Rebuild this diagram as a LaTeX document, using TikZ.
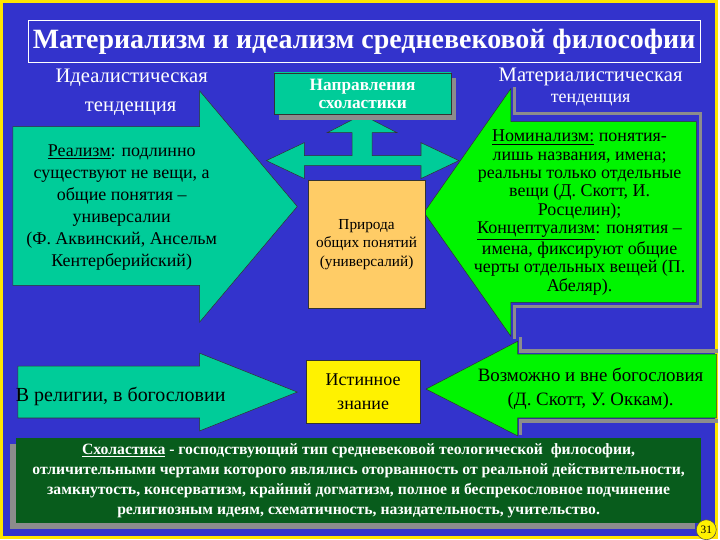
\documentclass[tikz,border=0pt]{standalone}
\usepackage{fontspec}
\setmainfont{Liberation Serif}
\usetikzlibrary{shadows}
\definecolor{bgblue}{RGB}{51, 51, 204}
\definecolor{frameyellow}{RGB}{255, 230, 0}
\definecolor{lteal}{RGB}{0, 204, 153}
\definecolor{dteal}{RGB}{0, 85, 60}
\definecolor{lgreen}{RGB}{0, 245, 0}
\definecolor{dgreen}{RGB}{8, 92, 28}
\definecolor{lorange}{RGB}{255, 204, 102}
\definecolor{shgray}{RGB}{140, 140, 140}

\tikzset{
	bigarrow/.style = {draw = black!80, line width = 0.4pt},
	shadowline/.style = {draw = shgray, line width = 2.6pt},
	txt/.style = {align = center, inner sep = 0pt, font = \fontsize{13.5}{16.5}\selectfont},
	whitetxt/.style = {txt, text = white, font = \fontsize{15.5}{18}\selectfont},
}

\begin{document}
\begin{tikzpicture}[x = 0.75pt, y = -0.75pt]
			\fill[frameyellow] (0,0) rectangle (720,540);
			\fill[bgblue] (3,3) rectangle (717,537);
			\node (title) at (365,41.5) [draw = white, line width = 0.6pt, minimum width = 505.5pt, minimum height = 32.25pt, text = white, font = \fontsize{21}{24}\selectfont\bfseries] {Материализм и идеализм средневековой философии};
			\node (ideal) at (132,78) [whitetxt] {Идеалистическая};
			\node (idealb) at (131,109) [whitetxt] {тенденция};
			\node (mater) at (592,77) [whitetxt] {Материалистическая};
			\node (materb) at (592,100) [whitetxt, font = \fontsize{13.5}{16}\selectfont] {тенденция};
			\fill[bigarrow, fill = lteal] (13,127) -- (200,127) -- (200,91) -- (298,207) -- (200,323) -- (200,286) -- (13,286) -- cycle;
			\draw[shadowline] (516,87) -- (516,114) -- (702,114) -- (702,307) -- (516,307) -- (516,340);
			\fill[bigarrow, fill = lgreen] (698,122) -- (512,122) -- (512,89) -- (425,213) -- (512,337) -- (512,303) -- (698,303) -- cycle;
			\fill[bigarrow, fill = lteal] (363,115) -- (398,133) -- (373,133) -- (373,156) -- (422,156) -- (422,143) -- (460,161) -- (422,179) -- (422,166) -- (305,166) -- (305,179) -- (267,161) -- (305,143) -- (305,156) -- (353,156) -- (353,133) -- (328,133) -- cycle;
			\node (dir) at (363.5,94) [draw = black!80, minimum width = 132.75pt, minimum height = 31.5pt, top color = lteal, middle color = dteal, bottom color = lteal, drop shadow = {shadow xshift = 3.75pt, shadow yshift = -3.75pt, fill = shgray, opacity = 1}, text = white, align = center, font = \fontsize{13}{13.5}\selectfont\bfseries] {Направления\\схоластики};
			\node (nature) at (367.5,245) [draw = black!80, fill = lorange, minimum width = 87.75pt, minimum height = 96pt, align = center, font = \fontsize{11.5}{14}\selectfont] {Природа\\общих понятий\\(универсалий)};
			\node (real) at (122,208) [txt] {\underline{Реализм}: подлинно\\существуют не вещи, а\\общие понятия –\\универсалии\\(Ф. Аквинский, Ансельм\\Кентерберийский)};
			\node (nomin) at (581,213) [txt, font = \fontsize{13.5}{13.8}\selectfont] {\underline{Номинализм:} понятия-\\лишь названия, имена;\\реальны только отдельные\\вещи (Д. Скотт, И.\\Росцелин);\\\underline{Концептуализм}: понятия –\\имена, фиксируют общие\\черты отдельных вещей (П.\\Абеляр).};
			\fill[bigarrow, fill = lteal] (18,367) -- (200,367) -- (200,354) -- (298,393) -- (200,432) -- (200,419) -- (18,419) -- cycle;
			\draw[shadowline] (522,338) -- (522,352) -- (720,352);
			\draw[shadowline] (720,422) -- (522,422) -- (522,436);
			\fill[bigarrow, fill = lgreen] (718,355) -- (519,355) -- (519,342) -- (427,390) -- (519,437) -- (519,419) -- (718,419) -- cycle;
			\node (relig) at (121,397) [txt, font = \fontsize{15}{18}\selectfont] {В религии, в богословии};
			\node (truth) at (364,392.5) [draw = black!80, fill = yellow, minimum width = 85.5pt, minimum height = 47.25pt, align = center, font = \fontsize{13.5}{18}\selectfont] {Истинное\\знание};
			\node (outside) at (592,390) [txt, font = \fontsize{14.2}{18}\selectfont] {Возможно и вне богословия\\(Д. Скотт, У. Оккам).};
			\node (schol) at (359.5,481.5) [fill = dgreen, minimum width = 515.25pt, minimum height = 63.75pt, drop shadow = {shadow xshift = -4.5pt, shadow yshift = -4.5pt, fill = shgray, opacity = 1}, text = white, align = center, font = \fontsize{11.8}{15}\selectfont\bfseries] {\underline{Схоластика} - господствующий тип средневековой теологической \ философии,\\отличительными чертами которого являлись оторванность от реальной действительности,\\замкнутость, консерватизм, крайний догматизм, полное и беспрекословное подчинение\\религиозным идеям, схематичность, назидательность, учительство.};
			\node (page) at (708,531) [circle, draw = black!70, fill = yellow, inner sep = 0pt, minimum size = 15pt, font = \fontsize{8.5}{9}\selectfont] {31};
			\end{tikzpicture}
\end{document}
